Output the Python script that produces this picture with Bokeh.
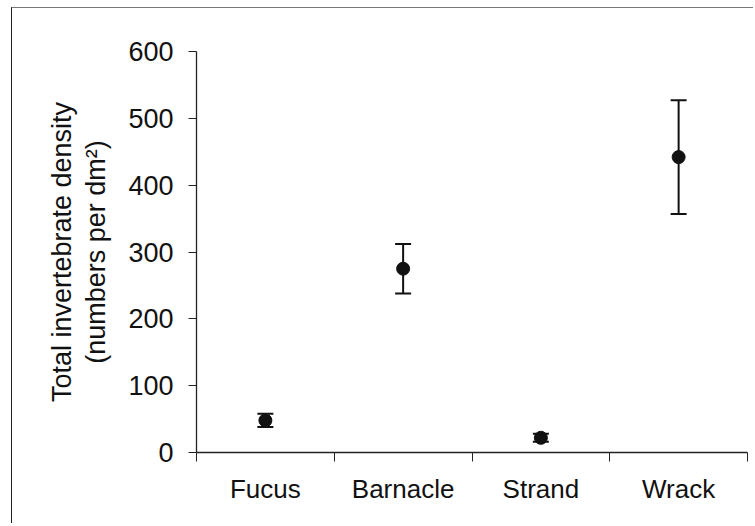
from bokeh.plotting import figure
from bokeh.models import ColumnDataSource, Range1d, FixedTicker, Whisker, TeeHead
from bokeh.embed import file_html
from bokeh.resources import INLINE

categories = ["Fucus", "Barnacle", "Strand", "Wrack"]
means = [48, 275, 22, 442]
errors = [10, 37, 6, 85]
y_ticks = [0, 100, 200, 300, 400, 500, 600]

xs = [i + 0.5 for i in range(len(categories))]
src = ColumnDataSource(dict(
    x=xs, y=means,
    lo=[m - e for m, e in zip(means, errors)],
    hi=[m + e for m, e in zip(means, errors)],
))

p = figure(width=742, height=516, output_backend="svg", toolbar_location=None,
           x_range=Range1d(0, len(categories)), y_range=Range1d(0, 600),
           min_border_left=184, min_border_right=7, min_border_top=43,
           min_border_bottom=72)
p.margin = (7, 0, 0, 11)
p.styles = {"border-left": "1px solid #222", "border-top": "1px solid #777"}
p.outline_line_color = None
p.xgrid.visible = False
p.ygrid.visible = False

font = "Liberation Sans"

# x axis: labels at centers, tick marks at boundaries (minor ticks)
p.xaxis.ticker = FixedTicker(ticks=xs, minor_ticks=list(range(len(categories) + 1)))
p.xaxis.major_label_overrides = {x: c for x, c in zip(xs, categories)}
p.xaxis.major_tick_line_color = None
p.xaxis.minor_tick_line_color = "#222"
p.xaxis.minor_tick_out = 9
p.xaxis.minor_tick_in = 0
p.xaxis.major_label_standoff = 12
p.xaxis.major_label_text_font = font
p.xaxis.major_label_text_font_size = "26px"
p.xaxis.major_label_text_color = "#111"
p.xaxis.axis_line_color = "#222"
p.xaxis.axis_line_width = 1.3

p.yaxis.ticker = FixedTicker(ticks=y_ticks, minor_ticks=[])
p.yaxis.major_tick_out = 8
p.yaxis.major_tick_in = 0
p.yaxis.major_tick_line_color = "#222"
p.yaxis.major_label_standoff = 15
p.yaxis.major_label_text_font = font
p.yaxis.major_label_text_font_size = "27px"
p.yaxis.major_label_text_color = "#111"
p.yaxis.axis_line_color = "#222"
p.yaxis.axis_line_width = 1.3
p.yaxis.axis_label = "Total invertebrate density\n(numbers per dm\u00b2)"
p.yaxis.axis_label_text_font = font
p.yaxis.axis_label_text_font_size = "27px"
p.yaxis.axis_label_text_font_style = "normal"
p.yaxis.axis_label_text_color = "#111"
p.yaxis.axis_label_text_line_height = 1.15
p.yaxis.axis_label_standoff = 14

w = Whisker(source=src, base="x", upper="hi", lower="lo",
            line_color="#111", line_width=2,
            upper_head=TeeHead(size=16, line_color="#111", line_width=2),
            lower_head=TeeHead(size=16, line_color="#111", line_width=2))
p.add_layout(w)
p.scatter("x", "y", source=src, size=13, color="#111")

open("out.html", "w").write(file_html(p, INLINE))
